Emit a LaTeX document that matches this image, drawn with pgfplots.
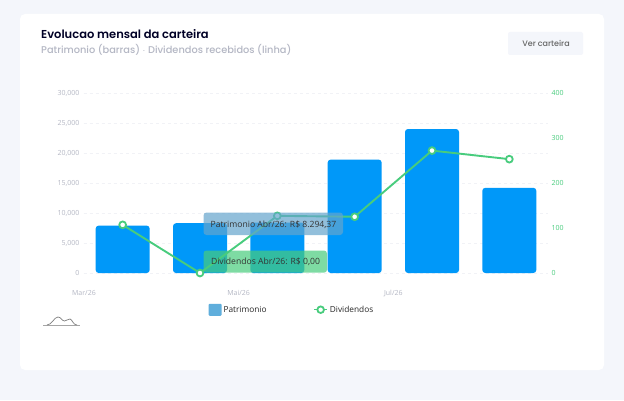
\documentclass[border=0pt]{standalone}
\usepackage{pgfplots}
\usepackage{fontspec}
\pgfplotsset{compat=1.18}
\setmainfont{Open Sans}
\newfontfamily\pops{Poppins SemiBold}
\newfontfamily\popm{Poppins Medium}
\definecolor{pagebg}{HTML}{F4F6FB}
\definecolor{barc}{HTML}{0098F9}
\definecolor{linec}{HTML}{48CC7D}
\definecolor{gridc}{HTML}{F1F2F6}
\definecolor{ticc}{HTML}{B4B7C4}
\definecolor{legsq}{HTML}{5FAEDC}
\definecolor{tipb}{HTML}{64A5CD}
\begin{document}
\begin{tikzpicture}[x=1pt,y=1pt]
\path[fill=pagebg] (0,0) rectangle (624,400);
\path[fill=white,rounded corners=5pt] (20,30) rectangle (604,386);
\node[anchor=base west,inner sep=0pt,text=black!85!blue] at (41,361) {\pops\fontsize{11.5}{13}\selectfont Evolucao mensal da carteira};
\node[anchor=base west,inner sep=0pt,text=ticc] at (41,346) {\popm\fontsize{9.8}{12}\selectfont Patrimonio (barras) $\cdot$ Dividendos recebidos (linha)};
\path[fill=pagebg,rounded corners=2pt] (508,345) rectangle (583,368);
\node[text=black!60,inner sep=0pt] at (546,357) {\popm\fontsize{8}{10}\selectfont Ver carteira};
\begin{axis}[at={(84pt,127pt)},anchor=south west,scale only axis,width=464pt,height=180pt,
 xmin=-0.5,xmax=5.5,ymin=0,ymax=30000,scaled y ticks=false,
 axis y line*=left,axis x line*=bottom,axis line style={draw=none},
 xtick={-0.5,1.5,3.5},xticklabels={Mar/26,Mai/26,Jul/26},
 ytick={0,5000,10000,15000,20000,25000,30000},
 yticklabels={0,{5,000},{10,000},{15,000},{20,000},{25,000},{30,000}},
 major tick length=0pt,
 ymajorgrids,grid style={draw=gridc,dashed,line width=0.6pt},
 tick label style={text=ticc,font=\fontsize{7}{8}\selectfont},
 xticklabel style={yshift=-14pt},yticklabel style={xshift=-1pt},
 legend style={at={(rel axis cs:0.268,-0.17)},anchor=north west,draw=none,fill=none,inner sep=0pt,
   font=\fontsize{8.3}{10}\selectfont,text=black!85},
 legend image code/.code={\path[fill=legsq,rounded corners=1pt] (0pt,-6pt) rectangle (13pt,6pt);},
 legend cell align=left]
\addplot[ybar,bar width=54pt,fill=barc,draw=none,rounded corners=3pt] coordinates {(0,7900)(1,8294.37)(2,8400)(3,18900)(4,24000)(5,14200)};
\addlegendentry{Patrimonio}
\end{axis}
\begin{axis}[at={(84pt,127pt)},anchor=south west,scale only axis,width=464pt,height=180pt,
 xmin=-0.5,xmax=5.5,ymin=0,ymax=400,
 axis y line*=right,axis x line=none,axis line style={draw=none},
 ytick={0,100,200,300,400},major tick length=0pt,
 /pgf/number format/assume math mode=true,
 tick label style={text=linec,font=\fontsize{7}{8}\selectfont},
 legend style={at={(rel axis cs:0.494,-0.17)},anchor=north west,draw=none,fill=none,inner sep=0pt,font=\fontsize{8.3}{10}\selectfont,text=black!85},
 legend image code/.code={\draw[linec,line width=1.5pt] (0pt,0pt) -- (13pt,0pt);\path[draw=linec,fill=white,line width=1.8pt] (6.5pt,0pt) circle (3.3pt);},
 clip=false]
\addplot[linec,line width=1.9pt,mark=*,mark size=3.4pt,mark options={fill=white,draw=linec,line width=1.8pt}] coordinates {(0,107)(1,0)(2,127)(3,125)(4,272)(5,253)};
\addlegendentry{Dividendos}
\end{axis}
\path[fill=tipb,fill opacity=0.7,rounded corners=3pt] (203.5,165) rectangle (343,187.5);
\node[inner sep=0pt,text=black!80] at (273.5,175.5) {\fontsize{8.6}{10}\selectfont Patrimonio Abr/26: R\$ 8.294,37};
\path[fill=linec,fill opacity=0.7,rounded corners=3pt] (203.5,127.3) rectangle (327,149.5);
\node[inner sep=0pt,text=black!80] at (265.5,138) {\fontsize{8.6}{10}\selectfont Dividendos Abr/26: R\$ 0,00};
\draw[gray!70,line width=0.7pt] (43,75) -- (80,75);
\draw[gray,line width=0.7pt] (47,75) .. controls (52,75) and (54,83) .. (58,83) .. controls (61,83) and (62,79) .. (64.5,79) .. controls (66,79) and (68,81) .. (70,81) .. controls (72,81) and (73,75) .. (77,75);
\end{tikzpicture}
\end{document}
